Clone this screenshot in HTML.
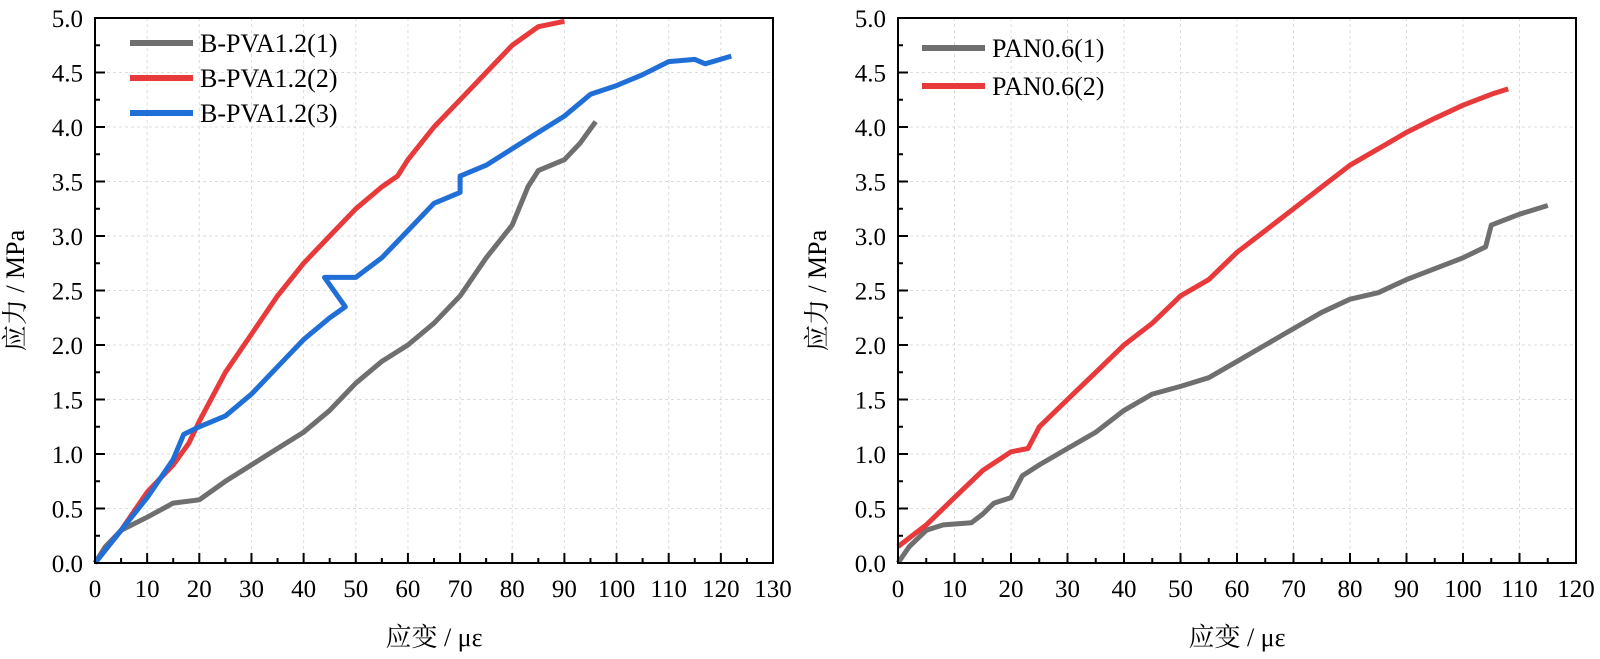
<!DOCTYPE html>
<html><head><meta charset="utf-8"><style>
html,body{margin:0;padding:0;background:#fff;}
text{font-family:"Liberation Serif","Noto Serif CJK SC",serif;fill:#000;}
</style></head><body>
<svg id="c" width="1600" height="654" xmlns="http://www.w3.org/2000/svg" font-family="'Liberation Serif','Noto Serif CJK SC',serif"></svg>
<script>
const leftXTicks=[0,10,20,30,40,50,60,70,80,90,100,110,120,130];
const rightXTicks=[0,10,20,30,40,50,60,70,80,90,100,110,120];
const yTicks=[0,0.5,1,1.5,2,2.5,3,3.5,4,4.5,5];
const s1x=[0,2,5,10,15,20,25,30,35,40,45,50,55,60,65,70,75,80,83,85,90,93,96];
const s1y=[0,0.15,0.3,0.42,0.55,0.58,0.75,0.9,1.05,1.2,1.4,1.65,1.85,2.0,2.2,2.45,2.8,3.1,3.45,3.6,3.7,3.85,4.05];
const s2x=[0,5,10,15,18,20,25,30,35,40,45,50,55,58,60,65,70,75,80,85,90];
const s2y=[0,0.3,0.65,0.9,1.1,1.3,1.75,2.1,2.45,2.75,3.0,3.25,3.45,3.55,3.7,4.0,4.25,4.5,4.75,4.92,4.97];
const s3x=[0,5,10,15,17,20,25,30,35,40,45,48,44,50,55,60,65,70,70,75,80,85,90,95,100,105,110,115,117,122];
const s3y=[0,0.3,0.6,0.95,1.18,1.25,1.35,1.55,1.8,2.05,2.25,2.35,2.62,2.62,2.8,3.05,3.3,3.4,3.55,3.65,3.8,3.95,4.1,4.3,4.38,4.48,4.6,4.62,4.58,4.65];
const p1x=[0,2,5,8,13,15,17,20,22,25,30,35,40,45,50,55,60,65,70,75,80,85,90,95,100,104,105,110,115];
const p1y=[0,0.15,0.3,0.35,0.37,0.45,0.55,0.6,0.8,0.9,1.05,1.2,1.4,1.55,1.62,1.7,1.85,2.0,2.15,2.3,2.42,2.48,2.6,2.7,2.8,2.9,3.1,3.2,3.28];
const p2x=[0,5,10,15,20,23,25,30,35,40,45,50,55,60,65,70,75,80,85,90,95,100,105,108];
const p2y=[0.15,0.35,0.6,0.85,1.02,1.05,1.25,1.5,1.75,2.0,2.2,2.45,2.6,2.85,3.05,3.25,3.45,3.65,3.8,3.95,4.08,4.2,4.3,4.35];

const svg=document.getElementById('c');
const NS='http://www.w3.org/2000/svg';
const FF="'Liberation Serif','Noto Serif CJK SC',serif";
function mk(tag,attrs,parent){const e=document.createElementNS(NS,tag);for(const k in attrs)e.setAttribute(k,attrs[k]);if(tag==='text')e.setAttribute('font-family',FF);(parent||svg).appendChild(e);return e;}
const Y0=563,Y1=18,YMAX=5;
function sy(v){return Y0-(v/YMAX)*(Y0-Y1);}

function panel(name,x0,x1,xmax,xt,ytitleX,series,legend){
  const g=mk('g',{});
  
  
  const sx=v=>x0+(v/xmax)*(x1-x0);
  xt.forEach(t=>{if(t>0&&t<xmax){const l=mk('line',{x1:sx(t),x2:sx(t),y1:Y1,y2:Y0,stroke:'#ddd','stroke-dasharray':'3,3','stroke-width':1},g);}});
  yTicks.forEach(t=>{if(t>0&&t<YMAX){const l=mk('line',{x1:x0,x2:x1,y1:sy(t),y2:sy(t),stroke:'#ddd','stroke-dasharray':'3,3','stroke-width':1},g);}});
  series.forEach(s=>{
    const pts=s.x.map((v,i)=>sx(v).toFixed(1)+','+sy(s.y[i]).toFixed(1)).join(' ');
    const p=mk('polyline',{points:pts,fill:'none',stroke:s.c,'stroke-width':5,'stroke-linejoin':'round'},g);
    
    
  });
  const f=mk('rect',{x:x0,y:Y1,width:x1-x0,height:Y0-Y1,fill:'none',stroke:'#000','stroke-width':2},g);
  
  
  xt.forEach((t,i)=>{
    const X=sx(t);
    mk('line',{x1:X,x2:X,y1:Y0,y2:Y0-10,stroke:'#000','stroke-width':2},g);
    if(i<xt.length-1){const m=sx(t+(xt[1]-xt[0])/2);mk('line',{x1:m,x2:m,y1:Y0,y2:Y0-5,stroke:'#000','stroke-width':2},g);}
    const tx=mk('text',{x:X,y:Y0+34,'font-size':25,'text-anchor':'middle'},g);
    tx.textContent=t;
    
    
  });
  yTicks.forEach((t,i)=>{
    const Y=sy(t);
    mk('line',{x1:x0,x2:x0+10,y1:Y,y2:Y,stroke:'#000','stroke-width':2},g);
    if(i<yTicks.length-1){const m=sy(t+0.25);mk('line',{x1:x0,x2:x0+5,y1:m,y2:m,stroke:'#000','stroke-width':2},g);}
    const tx=mk('text',{x:x0-12,y:Y+9,'font-size':25,'text-anchor':'end'},g);
    tx.textContent=t.toFixed(1);
    
    
  });
  const xtit=mk('text',{x:(x0+x1)/2,y:646,'font-size':26,'text-anchor':'middle'},g);
  xtit.textContent='应变 / με';
  
  
  const ytit=mk('text',{x:0,y:0,'font-size':26,'text-anchor':'middle',transform:`translate(${ytitleX},${(Y0+Y1)/2}) rotate(-90)`},g);
  ytit.textContent='应力 / MPa';
  
  
  legend.items.forEach((it,i)=>{
    const y=legend.y+i*legend.dy;
    const l=mk('line',{x1:legend.x,x2:legend.x+63,y1:y,y2:y,stroke:it.c,'stroke-width':6},g);
    
    
    const t=mk('text',{x:legend.x+70,y:y+9,'font-size':26},g);
    t.textContent=it.n;
    
    
  });
}
panel('left-panel',95,773,130,leftXTicks,24,[
  {x:s1x,y:s1y,c:'#6f6f6f',n:'series-b-pva-1'},
  {x:s2x,y:s2y,c:'#e8393b',n:'series-b-pva-2'},
  {x:s3x,y:s3y,c:'#1f6fd6',n:'series-b-pva-3'}],
  {x:130,y:43,dy:35,items:[{n:'B-PVA1.2(1)',c:'#6f6f6f'},{n:'B-PVA1.2(2)',c:'#e8393b'},{n:'B-PVA1.2(3)',c:'#1f6fd6'}]});
panel('right-panel',898,1576,120,rightXTicks,826,[
  {x:p1x,y:p1y,c:'#6f6f6f',n:'series-pan-1'},
  {x:p2x,y:p2y,c:'#e8393b',n:'series-pan-2'}],
  {x:922,y:48,dy:38,items:[{n:'PAN0.6(1)',c:'#6f6f6f'},{n:'PAN0.6(2)',c:'#e8393b'}]});
</script>
</body></html>
